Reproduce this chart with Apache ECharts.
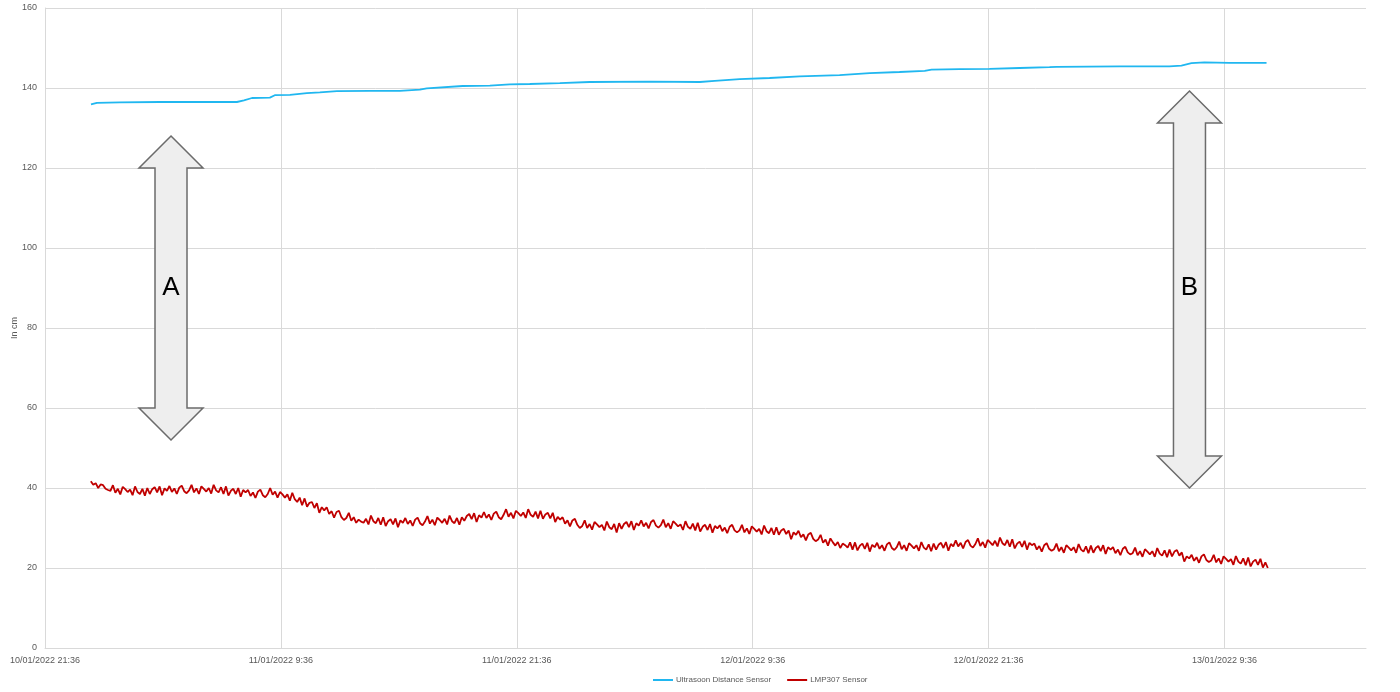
<!DOCTYPE html>
<html>
<head>
<meta charset="utf-8">
<script src="https://cdn.jsdelivr.net/npm/echarts@6/dist/echarts.min.js"></script>
<style>html,body{margin:0;padding:0;background:#fff}#c{width:1400px;height:692px}</style>
</head>
<body>
<div id="c"></div>
<script>
// x values are hours since 10/01/2022 21:36 (axis start)
const axisStartUTC = Date.UTC(2022, 0, 10, 21, 36);
const xMaxHours = 67.2;      // 13/01/2022 16:48
const xTickHours = 12;
const yTicks = [0, 20, 40, 60, 80, 100, 120, 140, 160];

const seriesNames = ['Ultrasoon Distance Sensor', 'LMP307 Sensor'];

const ultrasoonHours = [2.34, 2.64, 3.81, 5.85, 7.88, 9.76, 10.12, 10.53, 11.44, 11.69, 12.46, 13.32, 13.98, 14.85, 16.53, 18.05, 19.07, 19.42, 21.25, 22.63, 23.64, 24.66, 26.19, 27.71, 30.76, 33.31, 34.07, 35.34, 36.86, 38.39, 40.42, 41.95, 43.47, 44.75, 45.1, 46.53, 48.05, 49.58, 51.1, 51.46, 54.66, 57.2, 57.81, 58.32, 58.98, 60.25, 62.14];
const ultrasoonValues = [135.9, 136.3, 136.4, 136.5, 136.5, 136.5, 136.9, 137.5, 137.6, 138.2, 138.3, 138.7, 138.9, 139.2, 139.3, 139.3, 139.6, 139.9, 140.5, 140.6, 140.9, 141.0, 141.2, 141.5, 141.6, 141.5, 141.8, 142.2, 142.5, 142.9, 143.2, 143.7, 144.0, 144.3, 144.6, 144.7, 144.8, 145.0, 145.2, 145.3, 145.4, 145.4, 145.6, 146.2, 146.4, 146.3, 146.3];

// LMP307 sensor sampled every 7.5 minutes
const lmpFirstHour = 2.33;
const lmpStepHours = 0.125;
const lmpValues = [
 41.7,40.8,41.2,40.0,40.9,40.7,39.8,39.5, 39.3,40.7,38.8,39.8,38.4,40.3,39.7,39.0,
 39.6,38.2,40.4,39.0,38.5,39.8,38.1,40.0, 38.5,39.7,40.2,38.9,40.4,38.2,39.9,39.3,
 40.5,39.0,39.9,38.5,40.1,40.6,39.2,38.7, 39.4,40.8,38.9,39.9,38.5,40.4,39.8,39.1,
 40.0,38.6,40.8,39.4,38.9,40.2,38.5,40.4, 38.1,39.3,39.8,38.5,40.0,37.8,39.5,38.9,
 39.5,38.0,38.9,37.5,39.1,39.6,38.2,37.7, 38.5,40.0,38.3,39.1,37.6,39.0,38.4,37.6,
 38.4,36.8,38.8,37.2,36.5,37.6,35.7,37.4, 35.3,36.3,36.5,35.0,36.2,33.8,35.2,34.4,
 35.2,33.5,34.2,32.6,34.0,34.3,32.7,32.0, 32.5,33.8,31.8,32.7,31.3,32.1,31.6,31.3,
 32.3,30.9,33.1,31.7,31.2,32.5,30.8,32.7, 30.5,31.7,32.2,30.9,32.4,30.2,31.9,31.3,
 32.5,31.0,31.9,30.5,32.1,32.6,31.2,30.7, 31.6,33.0,31.1,32.1,30.7,32.6,32.0,31.3,
 32.3,30.9,33.1,31.7,31.2,32.5,30.8,32.7, 31.8,33.0,33.5,32.2,33.7,31.5,33.2,32.6,
 34.0,32.5,33.4,32.0,33.6,34.1,32.7,32.2, 33.3,34.7,32.8,33.8,32.4,34.3,33.7,33.0,
 33.9,32.5,34.7,33.3,32.8,34.1,32.4,34.3, 32.3,33.4,33.8,32.4,33.8,31.5,32.8,32.1,
 32.7,31.1,31.9,30.4,31.9,32.3,30.8,30.0, 30.5,31.9,30.0,31.0,29.6,31.5,30.9,30.2,
 30.8,29.4,31.6,30.2,29.7,31.0,28.9,31.2, 29.8,31.0,31.5,30.2,31.7,29.5,31.2,30.6,
 31.9,30.4,31.3,29.9,31.5,32.0,30.6,30.1, 30.7,32.1,30.2,31.2,29.8,31.7,31.1,30.4,
 30.9,29.5,31.7,30.3,29.8,31.1,29.4,31.3, 29.1,30.3,30.8,29.5,31.0,28.8,30.5,29.9,
 30.7,29.2,30.1,28.7,30.3,30.8,29.4,28.9, 29.4,30.8,28.9,29.9,28.5,30.4,29.8,29.1,
 29.8,28.4,30.6,29.2,28.7,30.0,28.3,30.2, 28.3,29.4,29.8,28.5,29.4,27.2,28.9,28.3,
 29.3,27.7,28.4,26.9,28.4,28.8,27.3,26.7, 27.1,28.3,26.3,27.1,25.6,27.4,26.4,25.6,
 26.5,25.0,26.1,25.7,25.1,26.4,24.6,26.4, 24.4,25.6,26.1,24.8,26.3,24.1,25.8,25.2,
 26.3,24.8,25.7,24.3,25.9,26.4,25.0,24.5, 25.2,26.6,24.7,25.7,24.3,26.2,25.6,24.9,
 25.7,24.3,26.5,25.1,24.6,25.9,24.2,26.1, 24.6,25.8,26.3,25.0,26.5,24.3,26.0,25.4,
 26.9,25.4,26.3,24.9,26.5,27.0,25.6,25.1, 26.0,27.4,25.5,26.5,25.1,27.0,26.4,25.7,
 26.8,25.4,27.6,26.2,25.7,27.0,25.3,27.2, 24.9,26.1,26.6,25.3,26.8,24.6,26.3,25.7,
 26.1,24.6,25.5,24.1,25.7,26.2,24.8,24.3, 24.7,26.1,24.2,25.2,23.8,25.7,25.1,24.4,
 25.2,23.8,26.0,24.6,24.1,25.4,23.7,25.6, 23.8,25.0,25.5,24.2,25.7,23.5,25.2,24.6,
 25.2,23.7,24.6,23.2,24.8,25.3,23.9,23.4, 23.7,25.1,23.2,24.2,22.8,24.7,24.1,23.4,
 24.2,22.8,25.0,23.6,23.1,24.4,22.7,24.6, 22.9,24.1,24.5,23.1,23.9,21.6,22.9,22.4,
 23.3,21.8,22.7,21.3,22.9,23.4,22.0,21.5, 21.9,23.3,21.4,22.4,21.0,22.9,22.3,21.6,
 22.2,20.8,23.0,21.6,21.1,22.4,20.7,22.6, 20.4,21.6,22.1,20.8,22.3,20.1,21.4,20.0
];

// Annotation arrows: hour position, bottom tip, top tip (cm), label
const arrowLabels = ['A', 'B'];
const arrowHours = [6.41, 58.22];
const arrowBottom = [52, 40];
const arrowTop = [128, 139.25];
const arrowHeadLen = 8;     // in cm units
const arrowLabelValue = 90;

const ultrasoonData = ultrasoonHours.map((h, i) => [h, ultrasoonValues[i]]);
const lmpData = lmpValues.map((v, i) => [lmpFirstHour + i * lmpStepHours, v]);

function fmtDate(h) {
  const d = new Date(axisStartUTC + Math.round(h * 3600000));
  const p = n => (n < 10 ? '0' : '') + n;
  return p(d.getUTCDate()) + '/' + p(d.getUTCMonth() + 1) + '/' + d.getUTCFullYear() + ' ' + d.getUTCHours() + ':' + p(d.getUTCMinutes());
}

const chart = echarts.init(document.getElementById('c'), null, {renderer: 'canvas'});
const FONT = 'Liberation Sans';
const option = {
  animation: false,
  backgroundColor: '#ffffff',
  grid: {left: 45, right: 34, top: 8, bottom: 44, containLabel: false, outerBoundsMode: 'none'},
  legend: {
    data: [
      {name: seriesNames[0], icon: 'rect', itemStyle: {color: '#20b7f0'}},
      {name: seriesNames[1], icon: 'rect', itemStyle: {color: '#c00000'}}
    ],
    left: 648, top: 671,
    itemWidth: 20, itemHeight: 2, itemGap: 16,
    textStyle: {fontFamily: FONT, fontSize: 8, color: '#595959', padding: [0, 0, 0, -2]}
  },
  xAxis: {
    type: 'value', min: 0, max: xMaxHours, interval: xTickHours,
    axisLine: {show: true, lineStyle: {color: '#d9d9d9', width: 1}},
    axisTick: {show: false},
    axisLabel: {
      margin: 8, fontFamily: FONT, fontSize: 9, color: '#595959',
      showMaxLabel: false,
      formatter: v => fmtDate(v)
    },
    splitLine: {show: true, showMaxLine: false, lineStyle: {color: '#d9d9d9', width: 1}}
  },
  yAxis: {
    type: 'value', min: yTicks[0], max: yTicks[yTicks.length - 1], interval: yTicks[1] - yTicks[0],
    name: 'In cm', nameLocation: 'middle', nameGap: 26, nameRotate: 90, nameMoveOverlap: false,
    nameTextStyle: {fontFamily: FONT, fontSize: 9, color: '#595959'},
    axisLine: {show: true, lineStyle: {color: '#d9d9d9', width: 1}},
    axisTick: {show: false},
    axisLabel: {margin: 8, fontFamily: FONT, fontSize: 9, color: '#595959'},
    splitLine: {show: true, lineStyle: {color: '#d9d9d9', width: 1}}
  },
  series: [
    {
      name: seriesNames[0], type: 'line', data: ultrasoonData,
      symbol: 'none', lineStyle: {color: '#20b7f0', width: 1.8}, itemStyle: {color: '#20b7f0'}
    },
    {
      name: seriesNames[1], type: 'line', data: lmpData,
      symbol: 'none', lineStyle: {color: '#c00000', width: 1.8}, itemStyle: {color: '#c00000'}
    }
  ]
};
chart.setOption(option);

function buildArrows() {
  const els = [];
  const headHalf = 32, shaftHalf = 16;
  arrowLabels.forEach((lab, i) => {
    const px = v => chart.convertToPixel({gridIndex: 0}, [arrowHours[i], v]);
    const tip = px(arrowTop[i]);
    const topBase = px(arrowTop[i] - arrowHeadLen);
    const botBase = px(arrowBottom[i] + arrowHeadLen);
    const bot = px(arrowBottom[i]);
    const cx = tip[0];
    const pts = [
      [cx, tip[1]],
      [cx + headHalf, topBase[1]],
      [cx + shaftHalf, topBase[1]],
      [cx + shaftHalf, botBase[1]],
      [cx + headHalf, botBase[1]],
      [cx, bot[1]],
      [cx - headHalf, botBase[1]],
      [cx - shaftHalf, botBase[1]],
      [cx - shaftHalf, topBase[1]],
      [cx - headHalf, topBase[1]]
    ];
    els.push({
      type: 'polygon', z: 10,
      shape: {points: pts},
      style: {fill: '#eeeeee', stroke: '#6b6b6b', lineWidth: 1.5, lineJoin: 'miter'}
    });
    const lp = px(arrowLabelValue);
    els.push({
      type: 'text', z: 11, x: cx, y: lp[1],
      style: {text: lab, fontFamily: FONT, fontSize: 26, fill: '#000000', align: 'center', verticalAlign: 'middle'}
    });
  });
  chart.setOption({graphic: {elements: els}});
}
buildArrows();
</script>
</body>
</html>
